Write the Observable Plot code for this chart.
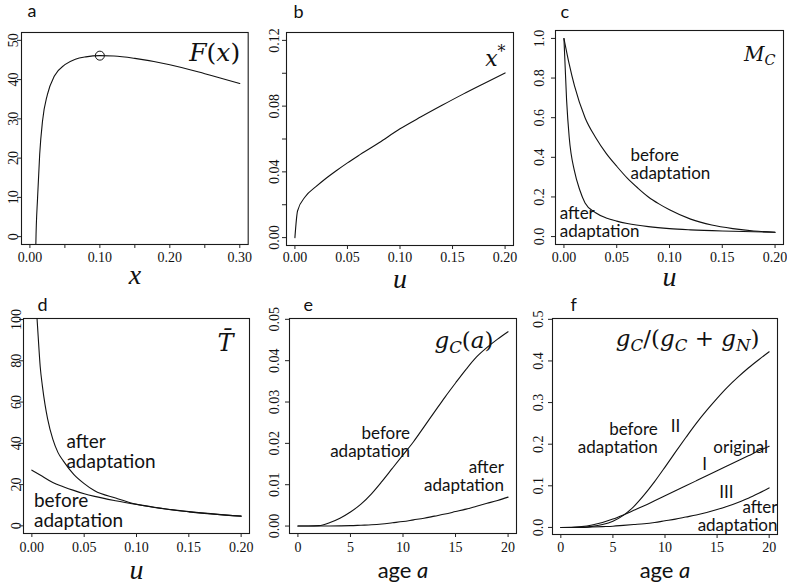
<!DOCTYPE html>
<html><head><meta charset="utf-8">
<script src="https://cdn.jsdelivr.net/npm/d3@7"></script>
<script src="https://cdn.jsdelivr.net/npm/@observablehq/plot@0.6"></script>
<style>
body{margin:0;background:#fff;}
#root{position:relative;width:787px;height:584px;overflow:hidden;background:#fff}
#root svg{position:absolute;overflow:visible;background:transparent}
</style></head><body><div id="root"></div>
<script>
// ---------- data ----------
// a: F(x)
const aX = [0.0078, 0.0085, 0.011, 0.014, 0.018, 0.025, 0.035, 0.05, 0.065, 0.08, 0.10, 0.12, 0.15, 0.20, 0.25, 0.30];
const aF = [-10, -2, 10, 21, 29.4, 36.2, 40.9, 43.8, 45.2, 45.8, 46.1, 46.0, 45.4, 43.8, 41.5, 39.0];
const aOptX = [0.10];
const aOptF = [46.1];
const aXTicks = [0, 0.05, 0.10, 0.15, 0.20, 0.25, 0.30];
const aXLabels = [0, 0.10, 0.20, 0.30];
const aYTicks = [0, 10, 20, 30, 40, 50];
// b: x*
const bU = [0, 0.0025, 0.01, 0.02, 0.03, 0.04, 0.05, 0.06, 0.08, 0.10, 0.12, 0.14, 0.16, 0.18, 0.20];
const bX = [0, 0.0162, 0.025, 0.031, 0.0363, 0.041, 0.0455, 0.0497, 0.0577, 0.0662, 0.0735, 0.0805, 0.0873, 0.0938, 0.1002];
const bXTicks = [0, 0.05, 0.10, 0.15, 0.20];
const bYTicks = [0, 0.02, 0.04, 0.06, 0.08, 0.10, 0.12];
const bYLabels = [0, 0.04, 0.08, 0.12];
// c: M_C
const cUBefore = [0, 0.005, 0.01, 0.02, 0.03, 0.04, 0.05, 0.06, 0.07, 0.08, 0.09, 0.10, 0.12, 0.14, 0.16, 0.18, 0.20];
const cBefore = [1.0, 0.87, 0.76, 0.60, 0.50, 0.42, 0.355, 0.295, 0.245, 0.20, 0.165, 0.135, 0.088, 0.058, 0.04, 0.028, 0.022];
const cUAfter = [0, 0.0025, 0.005, 0.01, 0.015, 0.02, 0.03, 0.04, 0.05, 0.06, 0.08, 0.10, 0.12, 0.15, 0.20];
const cAfter = [1.0, 0.69, 0.50, 0.33, 0.235, 0.17, 0.12, 0.094, 0.078, 0.066, 0.05, 0.04, 0.034, 0.028, 0.022];
const uTicks = [0, 0.05, 0.10, 0.15, 0.20];
const cYTicks = [0, 0.2, 0.4, 0.6, 0.8, 1.0];
// d: T-bar
const dUAfter = [0.0045, 0.006, 0.008, 0.01, 0.0125, 0.015, 0.02, 0.025, 0.03, 0.04, 0.05, 0.06, 0.08, 0.10, 0.12, 0.15, 0.20];
const dAfter = [104, 92, 77, 68, 59, 52, 42, 35.5, 31.5, 25, 20.5, 17, 13.5, 10.5, 8.7, 6.8, 4.7];
const dUBefore = [0, 0.01, 0.02, 0.03, 0.04, 0.05, 0.06, 0.08, 0.10, 0.12, 0.15, 0.20];
const dBefore = [27, 24, 21, 19, 17.2, 15.6, 14.3, 12.2, 10.4, 8.8, 6.9, 4.7];
const dYTicks = [0, 20, 40, 60, 80, 100];
// e: g_C(a)
const age = [0, 1, 2, 3, 4, 5, 6, 7, 8, 9, 10, 11, 12, 13, 14, 15, 16, 17, 18, 19, 20];
const eBefore = [0, 0.00001, 0.0001, 0.0008, 0.0019, 0.0034, 0.0053, 0.0078, 0.0108, 0.0140, 0.0172, 0.0204, 0.0240, 0.0276, 0.0312, 0.0346, 0.0379, 0.0409, 0.0432, 0.0452, 0.0470];
const eAfter = [0, 0, 0, 0.00002, 0.00005, 0.0001, 0.0002, 0.0003, 0.0005, 0.0008, 0.0011, 0.0015, 0.0019, 0.0024, 0.0029, 0.0035, 0.0041, 0.0048, 0.0055, 0.0062, 0.0070];
const ageTicks = [0, 5, 10, 15, 20];
const eYTicks = [0, 0.01, 0.02, 0.03, 0.04, 0.05];
// f: g_C/(g_C+g_N)
const fII = [0, 0.0001, 0.0006, 0.0025, 0.007, 0.015, 0.029, 0.05, 0.078, 0.11, 0.145, 0.181, 0.216, 0.25, 0.281, 0.31, 0.337, 0.361, 0.383, 0.403, 0.422];
const fI = [0, 0, 0.002, 0.006, 0.012, 0.02, 0.03, 0.041, 0.052, 0.064, 0.076, 0.088, 0.1, 0.112, 0.124, 0.136, 0.148, 0.16, 0.172, 0.184, 0.195];
const fIII = [0, 0, 0, 0.001, 0.002, 0.003, 0.005, 0.007, 0.009, 0.012, 0.016, 0.02, 0.025, 0.03, 0.036, 0.043, 0.051, 0.06, 0.07, 0.082, 0.095];
const fYTicks = [0, 0.1, 0.2, 0.3, 0.4, 0.5];

// ---------- rendering ----------
const SERIF = "'Liberation Serif', 'Times New Roman', serif";
const MATH = "'DejaVu Serif', 'Liberation Serif', serif";
const SANS = "Lato, 'Open Sans', sans-serif";
const INK = "#111";
const ML = 21, MT = 32, MR = 4, MB = 52;
const root = document.getElementById("root");

function line(data, x, y) {
  return Plot.line(data, {x, y, curve: "monotone-x", stroke: INK, strokeWidth: 1.1, clip: true});
}
function note(str, x, y, anchor, size) {
  return Plot.text([str], {x, y, textAnchor: anchor, lineAnchor: "bottom", lineHeight: 1.05, fontFamily: SANS, fontSize: size, fill: INK});
}

function panel(o) {
  const [L, T, R, B] = o.frame;
  const width = (R - L) + ML + MR, height = (B - T) + MT + MB;
  const xl = o.xLab || o.xTicks, yl = o.yLab || o.yTicks;
  const marks = [
    Plot.frame({stroke: "#1a1a1a", strokeWidth: 1.1}),
    Plot.axisX(o.xTicks, {anchor: "bottom", label: null, tickSize: 4, stroke: "#222", tickFormat: () => ""}),
    Plot.axisY(o.yTicks, {anchor: "left", label: null, tickSize: 4, stroke: "#222", tickFormat: () => ""}),
    Plot.text(xl, {x: d => d, text: o.xFmt, frameAnchor: "bottom", dy: o.xLabDy, lineAnchor: "middle", fontFamily: SERIF, fontSize: 14, fill: INK}),
    Plot.text(yl, {y: d => d, text: o.yFmt, frameAnchor: "left", dx: o.yLabDx, rotate: -90, textAnchor: "middle", lineAnchor: "bottom", fontFamily: SERIF, fontSize: 14, fill: INK}),
    ...o.marks,
    Plot.text([o.letter], {frameAnchor: "top-left", dx: o.letterPos[0], dy: o.letterPos[1], textAnchor: "start", lineAnchor: "bottom", fontFamily: SANS, fontSize: 18, fill: INK}),
    Plot.text([o.xTitle], {frameAnchor: "bottom", dy: o.titleDy, lineAnchor: "bottom", fontFamily: o.titleSans ? SANS : SERIF, fontStyle: o.titleSans ? "normal" : "italic", fontSize: o.titleSize, fill: INK}),
    Plot.text([o.math], {frameAnchor: "top-right", dx: o.mathPos[0], dy: o.mathPos[1], textAnchor: "end", lineAnchor: "bottom", fontFamily: MATH, fontSize: o.mathSize, fill: INK})
  ];
  const svg = Plot.plot({
    width, height, marginLeft: ML, marginTop: MT, marginRight: MR, marginBottom: MB,
    x: {domain: o.xDomain}, y: {domain: o.yDomain},
    style: {background: "transparent", overflow: "visible"},
    marks
  });
  svg.style.left = (L - ML) + "px";
  svg.style.top = (T - MT) + "px";
  root.append(svg);
  d3.select(svg).selectAll("text").each(function () {
    const s = this.textContent;
    if (s === o.math) setMath(this, o.mathSrc, o.mathSize);
    if (s === "age a") {
      const el = d3.select(this); el.text(null);
      el.append("tspan").text("age ");
      el.append("tspan").text("a").attr("font-style", "italic");
    }
  });
}

function setMath(textEl, s, size) {
  const el = d3.select(textEl);
  el.text(null).style("white-space", "pre");
  let shift = 0;
  for (let i = 0; i < s.length; i++) {
    let ch = s[i], mode = 0;
    if (ch === "_") { mode = 1; ch = s[++i]; }
    else if (ch === "^") { mode = -1; ch = s[++i]; }
    while (i + 1 < s.length && /[\u0300-\u036f]/.test(s[i + 1])) ch += s[++i];
    const t = el.append("tspan").text(ch);
    t.attr("font-style", /[A-Za-z]/.test(ch[0]) ? "italic" : "normal");
    const target = mode === 1 ? 0.22 * size : mode === -1 ? -0.38 * size : 0;
    if (target !== shift) { t.attr("dy", target - shift); shift = target; }
    if (mode) t.attr("font-size", size * 0.72);
  }
}

const f2 = d3.format(".2f"), f1 = d3.format(".1f"), f0 = d3.format("d");

panel({
  frame: [21.3, 32, 248, 244], xDomain: [-0.012, 0.312], yDomain: [-2, 52],
  xTicks: aXTicks, xLab: aXLabels, xFmt: f2, xLabDy: 13, yTicks: aYTicks, yFmt: f0, yLabDx: -3,
  marks: [line(aF, aX, aF), Plot.dot(aOptX, {x: aOptX, y: aOptF, r: 4.5, stroke: INK, strokeWidth: 1, fill: "none"})],
  letter: "a", letterPos: [6, -15], xTitle: "x", titleDy: 40, titleSize: 28,
  math: "F(x)", mathSrc: "F(x)", mathPos: [-8, 29], mathSize: 25
});
panel({
  frame: [286, 32, 513, 245], xDomain: [-0.008, 0.208], yDomain: [-0.0048, 0.1248],
  xTicks: bXTicks, xFmt: f2, xLabDy: 12.5, yTicks: bYTicks, yLab: bYLabels, yFmt: f2, yLabDx: -8,
  marks: [line(bX, bU, bX)],
  letter: "b", letterPos: [7, -15], xTitle: "u", titleDy: 42, titleSize: 28,
  math: "x*", mathSrc: "x^*", mathPos: [-8, 33], mathSize: 22
});
panel({
  frame: [555, 30, 783, 244], xDomain: [-0.008, 0.208], yDomain: [-0.04, 1.04],
  xTicks: uTicks, xFmt: f2, xLabDy: 13, yTicks: cYTicks, yFmt: f1, yLabDx: -12,
  marks: [line(cBefore, cUBefore, cBefore), line(cAfter, cUAfter, cAfter),
    note("before\nadaptation", 0.063, 0.29, "start", 17),
    note("after\nadaptation", -0.004, 0.0, "start", 17)],
  letter: "c", letterPos: [5, -13], xTitle: "u", titleDy: 41, titleSize: 28,
  math: "MC", mathSrc: "M_C", mathPos: [-8, 30], mathSize: 20
});
panel({
  frame: [23, 318, 249, 533], xDomain: [-0.008, 0.208], yDomain: [-3.7, 100.5],
  xTicks: uTicks, xFmt: f2, xLabDy: 14, yTicks: dYTicks, yFmt: f0, yLabDx: -2.5,
  marks: [line(dAfter, dUAfter, dAfter), line(dBefore, dUBefore, dBefore),
    note("after\nadaptation", 0.033, 28, "start", 19),
    note("before\nadaptation", 0.002, -0.6, "start", 19)],
  letter: "d", letterPos: [14, -8], xTitle: "u", titleDy: 45, titleSize: 28,
  math: "T̄", mathSrc: "T\u0304", mathPos: [-16, 32], mathSize: 24
});
panel({
  frame: [289, 318, 516, 533], xDomain: [-0.8, 20.8], yDomain: [-0.0018, 0.0502],
  xTicks: ageTicks, xFmt: f0, xLabDy: 14, yTicks: eYTicks, yFmt: f2, yLabDx: -11,
  marks: [line(eBefore, age, eBefore), line(eAfter, age, eAfter),
    note("before\nadaptation", 10.67, 0.0167, "end", 17),
    note("after\nadaptation", 19.6, 0.0086, "end", 17)],
  letter: "e", letterPos: [14, -8], xTitle: "age a", titleSans: true, titleDy: 44, titleSize: 22,
  math: "gC(a)", mathSrc: "g_C(a)", mathPos: [-23, 29], mathSize: 23
});
panel({
  frame: [552, 318, 777, 534], xDomain: [-0.8, 20.8], yDomain: [-0.017, 0.502],
  xTicks: ageTicks, xFmt: f0, xLabDy: 13.5, yTicks: fYTicks, yFmt: f1, yLabDx: -10,
  marks: [line(fII, age, fII), line(fI, age, fI), line(fIII, age, fIII),
    note("before\nadaptation", 9.3, 0.18, "end", 17),
    note("II", 11.0, 0.23, "middle", 17),
    note("original", 19.9, 0.178, "end", 17),
    note("I", 13.8, 0.137, "middle", 17),
    note("III", 15.9, 0.07, "middle", 17),
    note("after\nadaptation", 20.8, -0.008, "end", 17)],
  letter: "f", letterPos: [18, -8], xTitle: "age a", titleSans: true, titleDy: 43, titleSize: 22,
  math: "gC/(gC + gN)", mathSrc: "g_C/(g_C + g_N)", mathPos: [-18, 27], mathSize: 23
});
</script></body></html>
